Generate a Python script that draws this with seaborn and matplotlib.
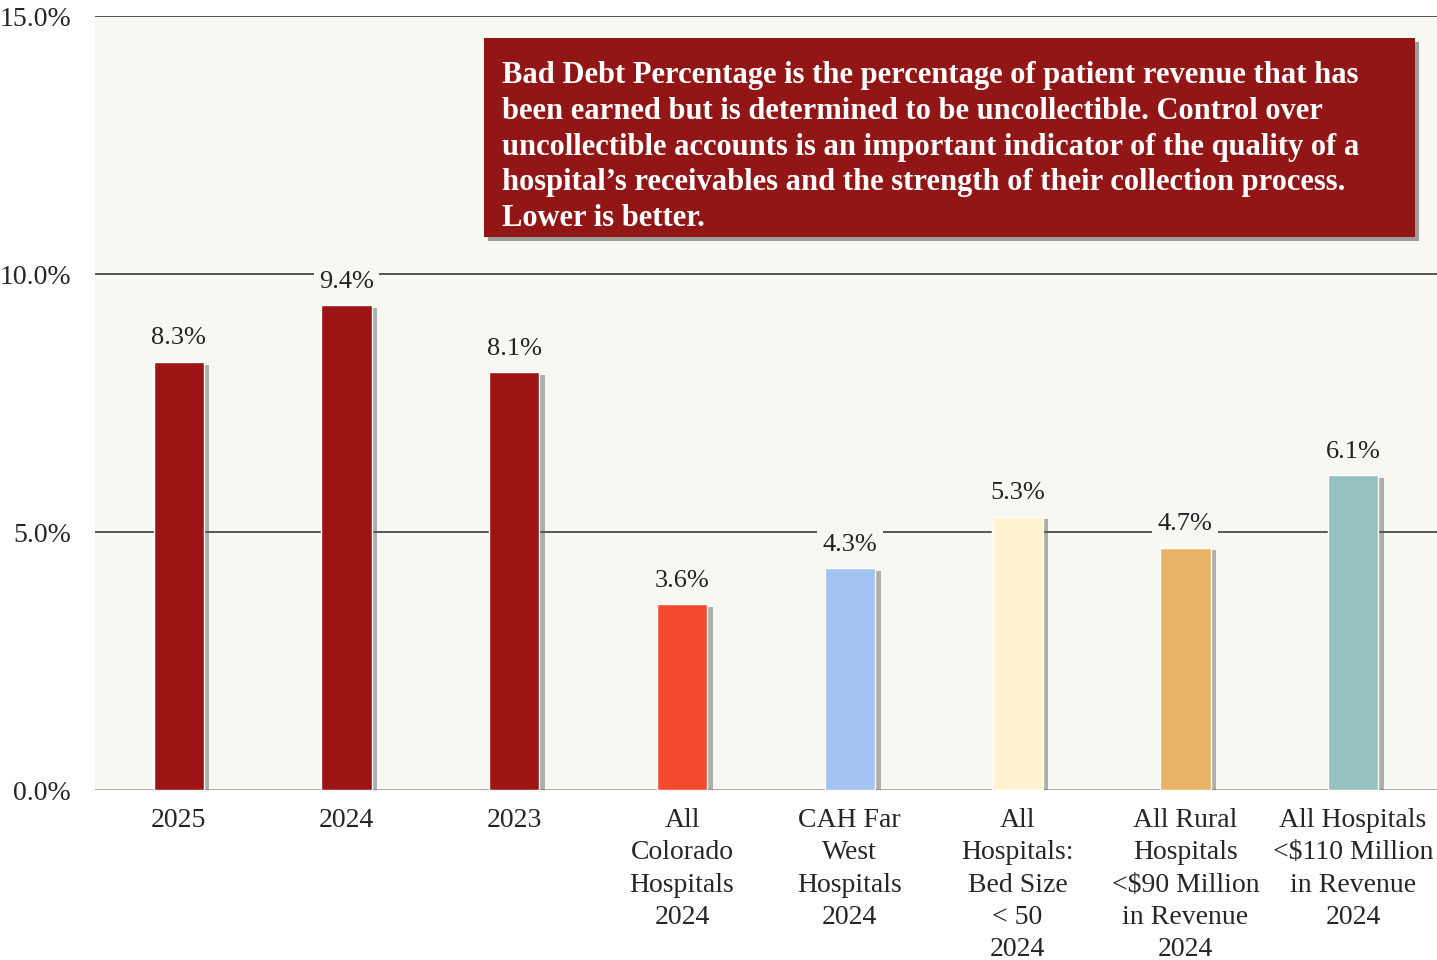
import matplotlib
matplotlib.use("Agg")
import matplotlib.pyplot as plt
import matplotlib.patheffects as pe
from matplotlib.patches import Rectangle
from matplotlib.ticker import FuncFormatter
import seaborn as sns

# %% data
categories = ["2025", "2024", "2023",
              "All\nColorado\nHospitals\n2024",
              "CAH Far\nWest\nHospitals\n2024",
              "All\nHospitals:\nBed Size\n< 50\n2024",
              "All Rural\nHospitals\n<$90 Million\nin Revenue\n2024",
              "All Hospitals\n<$110 Million\nin Revenue\n2024"]
bad_debt = [8.3, 9.4, 8.1, 3.6, 4.3, 5.3, 4.7, 6.1]
bar_colors = ["#9c1414", "#9c1414", "#9c1414", "#f5492f",
              "#a5c3f2", "#fff3d2", "#e8b366", "#95c2c1"]
y_ticks = [0, 5, 10, 15]

note = ("Bad Debt Percentage is the percentage of patient revenue that has\n"
        "been earned but is determined to be uncollectible. Control over\n"
        "uncollectible accounts is an important indicator of the quality of a\n"
        "hospital\u2019s receivables and the strength of their collection process.\n"
        "Lower is better.")

bg = "#f8f8f3"

# %% plot
sns.set_style("white")
plt.rcParams['font.family'] = ['Liberation Serif', 'DejaVu Serif']

fig = plt.figure(figsize=(14.37, 9.6), dpi=100)
ax = fig.add_axes([0.066, 0.177, 0.934, 0.806])
ax.set_facecolor(bg)

sns.barplot(x=categories, y=bad_debt, hue=categories, palette=bar_colors,
            width=0.3, legend=False, saturation=1, ax=ax, zorder=3)

shadow = [pe.SimplePatchShadow(offset=(4, -2), shadow_rgbFace="#555555", alpha=0.45),
          pe.Normal()]
for p in ax.patches:
    p.set_path_effects(shadow)

for c in ax.containers:
    ax.bar_label(c, fmt="%.1f%%", padding=9, fontsize=19, color="#222222",
                 bbox=dict(facecolor=bg, edgecolor="none", pad=4), zorder=4)

ax.set_ylim(0, 15)
ax.set_xlim(-0.5, 7.5)
ax.set_yticks(y_ticks)
ax.yaxis.set_major_formatter(FuncFormatter(lambda v, _: f"{v:.1f}%"))
for y in y_ticks:
    ax.axhline(y, color="#aaaaaa" if y == 0 else "#555555", lw=1.4, zorder=1)

ax.tick_params(axis="both", length=0)
ax.tick_params(axis="x", labelsize=20, pad=13)
ax.tick_params(axis="y", labelsize=20, pad=17)
for lab in ax.get_xticklabels():
    lab.set_multialignment("center")
    lab.set_linespacing(1.38)
for s in ax.spines.values():
    s.set_visible(False)
ax.set_xlabel("")
ax.set_ylabel("")

# note box
box = Rectangle((484 / 1437, 1 - 237 / 960), (1415 - 484) / 1437, (237 - 38) / 960,
                transform=fig.transFigure, facecolor="#931616", edgecolor="none",
                zorder=5)
box.set_path_effects([pe.SimplePatchShadow(offset=(3, -3), shadow_rgbFace="#444444",
                                           alpha=0.5), pe.Normal()])
fig.add_artist(box)
fig.text(502 / 1437, 1 - 61 / 960, note, color="white", fontsize=22,
         fontweight="bold", va="top", ha="left", linespacing=1.31, zorder=6)

fig.savefig("out.png", dpi=100, facecolor="white")
